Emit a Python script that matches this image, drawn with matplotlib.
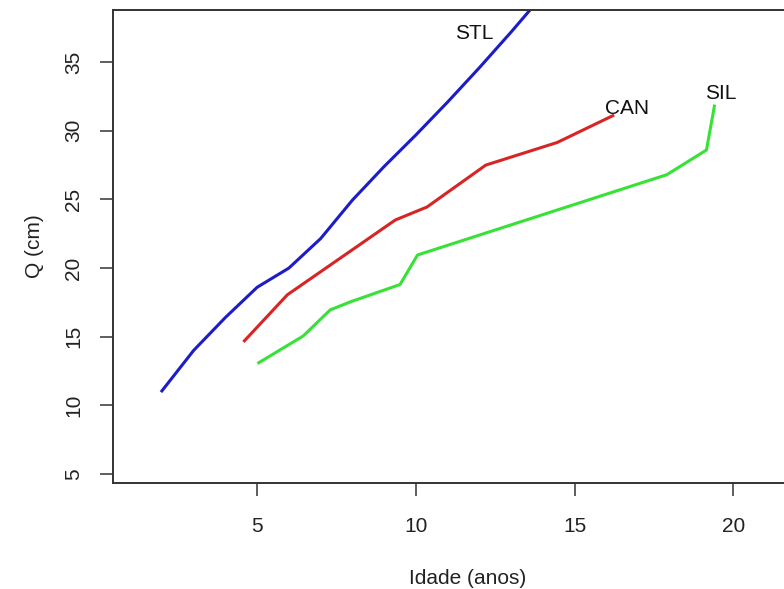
import matplotlib
matplotlib.use("Agg")
import matplotlib.pyplot as plt

# growth curves: age (years) vs Q (cm)
stl_age = [2, 3, 4, 5, 6, 7, 8, 9, 10, 11, 12, 13, 14]
stl_q = [11.05, 14.0, 16.4, 18.6, 20.0, 22.15, 24.95, 27.4, 29.7, 32.1, 34.6, 37.2, 39.9]

can_age = [4.6, 5.95, 9.35, 10.35, 12.2, 14.45, 16.2]
can_q = [14.7, 18.05, 23.5, 24.45, 27.5, 29.15, 31.1]

sil_age = [5.05, 6.45, 7.3, 7.95, 9.5, 10.05, 17.9, 19.15, 19.4]
sil_q = [13.1, 15.05, 16.95, 17.55, 18.8, 20.95, 26.8, 28.6, 31.8]

labels = ["STL", "CAN", "SIL"]
label_x = [11.85, 16.65, 19.6]
label_y = [37.1, 31.65, 32.75]

plt.rcParams["font.family"] = ["Liberation Sans", "DejaVu Sans"]

fig = plt.figure(figsize=(7.84, 5.89), dpi=100)
W, H = 784, 589
left, right, top, bottom = 113, 823, 10, 483
ax = fig.add_axes([left / W, (H - bottom) / H, (right - left) / W, (bottom - top) / H])

ax.plot(stl_age, stl_q, color="#1c1cc8", lw=2.2)
ax.plot(can_age, can_q, color="#d92424", lw=2.2)
ax.plot(sil_age, sil_q, color="#36e236", lw=2.2)

for t, x, y in zip(labels, label_x, label_y):
    ax.text(x, y, t, ha="center", va="center", fontsize=15, color="#111111")

ax.set_xlim(0.46, 22.82)
ax.set_ylim(4.34, 38.8)
ax.set_xticks([5, 10, 15, 20])
ax.set_yticks([5, 10, 15, 20, 25, 30, 35])
ax.tick_params(direction="out", length=9.5, width=1.1, color="#333333",
               labelsize=15, labelcolor="#222222")
ax.tick_params(axis="x", pad=15)
ax.tick_params(axis="y", pad=12)
for lab in ax.get_yticklabels():
    lab.set_rotation(90)
    lab.set_va("center")
for sp in ax.spines.values():
    sp.set_linewidth(1.4)
    sp.set_color("#333333")

ax.set_xlabel("Idade (anos)", fontsize=15, color="#222222")
ax.set_ylabel("Q (cm)", fontsize=15, color="#222222")
ax.xaxis.set_label_coords((468 - left) / (right - left), -(578 - bottom) / (bottom - top))
ax.xaxis.label.set_va("center")
ax.yaxis.set_label_coords(-(left - 35) / (right - left), 0.5)
ax.yaxis.label.set_va("center")

fig.savefig("out.png", dpi=100)
